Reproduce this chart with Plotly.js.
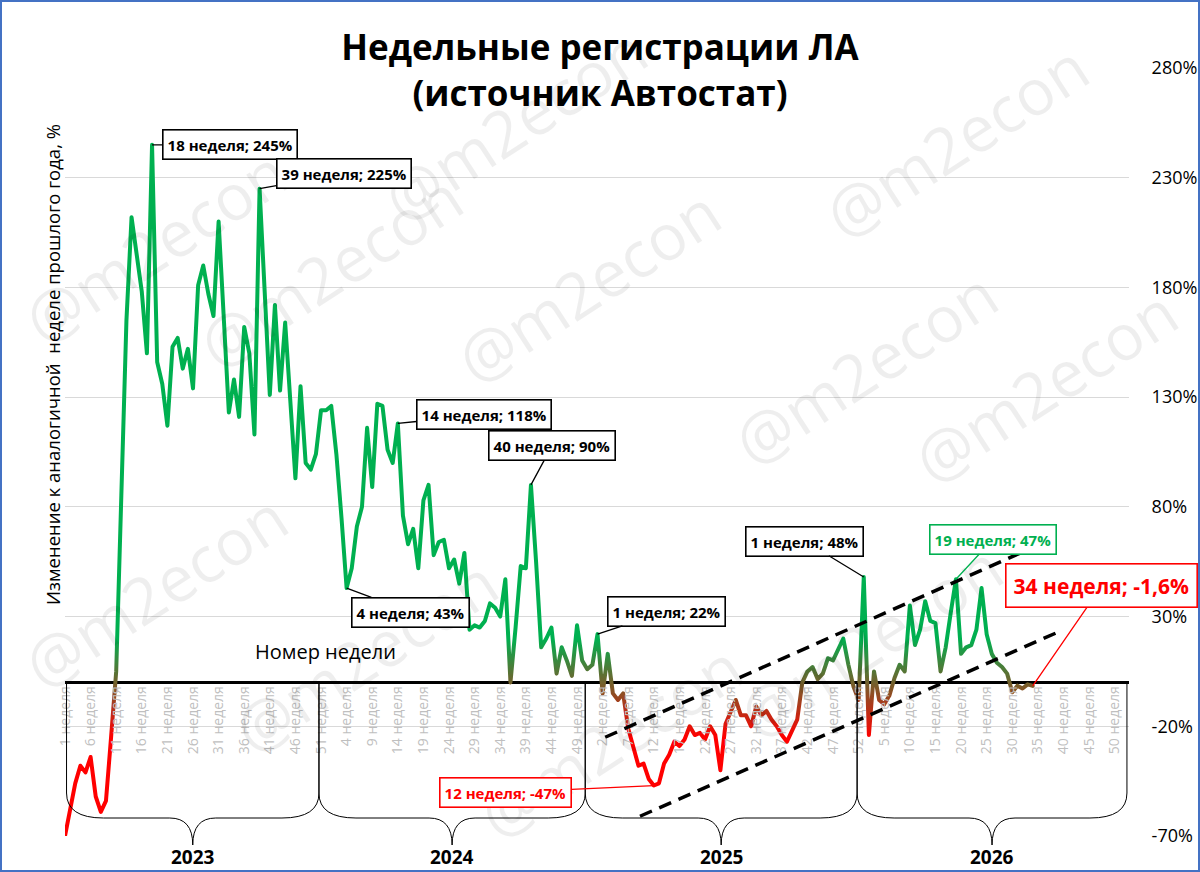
<!DOCTYPE html>
<html>
<head>
<meta charset="utf-8">
<script src="https://cdn.plot.ly/plotly-3.0.1.min.js"></script>
<style>
html,body{margin:0;padding:0;background:#fff;}
#chart{width:1200px;height:872px;}
</style>
</head>
<body>
<div id="chart"></div>
<script>
// ---------------- DATA ----------------
const years = [2023, 2024, 2025, 2026];
const weeksPerYear = 52;
const weekWord = 'неделя';

// change vs same week of previous year, %
const v2023 = [-70, -57, -46, -38, -41, -34, -52, -59, -54, -25,
  5, 85, 165, 212, 195, 178, 150, 245, 146, 136,
  117, 153, 157, 143, 152, 134, 181, 190, 177, 167,
  210, 165, 123, 138, 121, 162, 150, 113, 225, 178,
  131, 172, 133, 164, 130, 93, 135, 100, 97, 104,
  124, 124];
const v2024 = [126, 104, 75, 43, 52, 71, 80, 116, 89, 127,
  126, 106, 100, 118, 76, 63, 70, 52, 83, 90,
  58, 64, 65, 52, 56, 45, 59, 24, 26, 25,
  28, 36, 34, 30, 47, 0, 25, 53, 52, 90,
  55, 16, 20, 25, 4, 16, 10, 3, 26, 10,
  6, 8];
const v2025 = [22, -5, 13, -5, -8, -5, -21, -30, -38, -37,
  -44, -47, -46, -37, -33, -27, -29, -26, -20, -24,
  -23, -26, -20, -24, -40, -19, -14, -8, -15, -15,
  -20, -11, -15, -13, -17, -20, -24, -27, -22, -17,
  0, 5, 7, 1.5, 4, 11, 10, 15, 20, 8,
  -2, -8];
const v2026 = [48, -24, 5, -8, -10, -6, 2, 8, 5, 35,
  17, 24, 37, 28, 27, 5, 16, 32, 47, 13,
  16, 17, 24, 43, 22, 13, 9, 7, 4, -4.5,
  -1.5, -2.8, -0.9, -1.6];
const seriesByYear = [v2023, v2024, v2025, v2026];

const yTickValues = [-70, -20, 30, 80, 130, 180, 230, 280];

// trend channel drawn by the author (week index, %)
const channelUpperX = [105.5, 189.5];
const channelUpperY = [-25, 62];
const channelLowerX = [112.3, 194.7];
const channelLowerY = [-61, 23.7];

// ---------------- LAYOUT CONSTANTS ----------------
const FONT = "'Open Sans', 'Noto Sans', sans-serif";
const W = 1200, H = 872, ML = 65, MR = 71, MT = 68, MB = 36;
const PW = W - ML - MR, PH = H - MT - MB;
const XMAX = 207.8, YMIN = -70, YMAX = 280;
const GREEN = '#00B050', RED = '#FF0000';
const GRAD_HI = 20, GRAD_LO = -25;

const px = x => (x - ML) / PW;          // pixel x -> paper
const py = y => (H - MB - y) / PH;      // pixel y -> paper
const xi = i => i / XMAX;               // week index -> paper
const yv = v => (v - YMIN) / (YMAX - YMIN);

// ---------------- BUILD SERIES ----------------
const xs = [], ys = [];
seriesByYear.forEach((arr, yi) => arr.forEach((v, wi) => {
  xs.push(yi * weeksPerYear + wi);
  ys.push(v);
}));
function idxOf(year, week) { return years.indexOf(year) * weeksPerYear + (week - 1); }
function valOf(year, week) { return seriesByYear[years.indexOf(year)][week - 1]; }

// tick labels every 5 weeks across the continuous axis
const tickvals = [], ticktext = [];
for (let i = 0; i < years.length * weeksPerYear; i += 5) {
  tickvals.push(i);
  ticktext.push(((i % weeksPerYear) + 1) + ' ' + weekWord);
}

const traces = [{
  type: 'scatter', mode: 'lines', x: xs, y: ys,
  line: {color: GREEN, width: 4},
  hoverinfo: 'skip', showlegend: false
}];

// ---------------- SHAPES ----------------
const shapes = [];
shapes.push({type: 'line', xref: 'x', yref: 'y',
  x0: channelUpperX[0], y0: channelUpperY[0], x1: channelUpperX[1], y1: channelUpperY[1],
  line: {color: '#000', width: 3.5, dash: '13px,8px'}});
shapes.push({type: 'line', xref: 'x', yref: 'y',
  x0: channelLowerX[0], y0: channelLowerY[0], x1: channelLowerX[1], y1: channelLowerY[1],
  line: {color: '#000', width: 3.5, dash: '13px,8px'}});

// year braces under the axis
const yearBounds = [0.3, 49.6, 101.6, 154.7, 207.4];
const Y0 = py(683), YA = py(793), YB = py(818), YC = py(845);
const R1 = 37 / PW, R2 = 23 / PW;
for (let k = 0; k < years.length; k++) {
  const a = xi(yearBounds[k]), b = xi(yearBounds[k + 1]), c = (a + b) / 2;
  const d = `M ${a},${Y0} L ${a},${YA} Q ${a},${YB} ${a + R1},${YB} L ${c - R2},${YB} ` +
            `Q ${c},${YB} ${c},${YC} Q ${c},${YB} ${c + R2},${YB} L ${b - R1},${YB} ` +
            `Q ${b},${YB} ${b},${YA} L ${b},${Y0}`;
  shapes.push({type: 'path', xref: 'paper', yref: 'paper', path: d,
    line: {color: '#000', width: 1}});
}
// chart border
shapes.push({type: 'rect', xref: 'paper', yref: 'paper',
  x0: px(1), x1: px(1199), y0: py(871), y1: py(1),
  line: {color: '#4472C4', width: 2}, fillcolor: 'rgba(0,0,0,0)'});

// ---------------- ANNOTATIONS ----------------
const annotations = [];

// watermarks
const marks = [[515, 124], [155, 245], [330, 270], [588, 285], [956, 140], [865, 367],
  [1045, 385], [155, 590], [365, 655], [610, 740], [870, 640]];
marks.forEach(m => annotations.push({
  xref: 'paper', yref: 'paper', x: px(m[0]), y: py(m[1]), xanchor: 'center', yanchor: 'middle',
  text: '@m2econ', showarrow: false, textangle: -33,
  font: {family: FONT, size: 64, color: 'rgba(0,0,0,0.065)'}
}));

const fmt = v => String(v).replace('.', ',');
const callouts = [
  {year: 2023, week: 18, ax: 78, ay: 0, color: '#000', size: 15},
  {year: 2023, week: 39, ax: 84, ay: -15, color: '#000', size: 15},
  {year: 2024, week: 14, ax: 86, ay: -9, color: '#000', size: 15},
  {year: 2024, week: 4, ax: 64, ay: 24, color: '#000', size: 15},
  {year: 2024, week: 40, ax: 21, ay: -39, color: '#000', size: 15},
  {year: 2025, week: 1, ax: 69, ay: -23, color: '#000', size: 15},
  {year: 2025, week: 12, ax: -148, ay: 7, color: RED, size: 15},
  {year: 2026, week: 1, ax: -59, ay: -36, color: '#000', size: 15},
  {year: 2026, week: 19, ax: 37, ay: -40, color: GREEN, size: 15},
  {year: 2026, week: 34, ax: 69, ay: -100, color: RED, size: 21, pad: 7}
];
callouts.forEach(c => {
  const v = valOf(c.year, c.week);
  annotations.push({
    xref: 'x', yref: 'y', x: idxOf(c.year, c.week), y: v,
    text: '<b>' + c.week + ' ' + weekWord + '; ' + fmt(v) + '%</b>',
    showarrow: true, arrowhead: 0, arrowwidth: 1.3, arrowcolor: c.color,
    ax: c.ax, ay: c.ay, standoff: 0, startstandoff: 0,
    bgcolor: '#ffffff', bordercolor: c.color, borderwidth: 1.6, borderpad: c.pad || 4,
    font: {family: FONT, size: c.size, color: c.color}
  });
});

// year labels
for (let k = 0; k < years.length; k++) {
  annotations.push({xref: 'paper', yref: 'paper',
    x: (xi(yearBounds[k]) + xi(yearBounds[k + 1])) / 2, y: py(857),
    xanchor: 'center', yanchor: 'middle', showarrow: false,
    text: '<b>' + years[k] + '</b>', font: {family: FONT, size: 19, color: '#000'}});
}
// axis captions
annotations.push({xref: 'paper', yref: 'paper', x: px(325), y: py(651),
  xanchor: 'center', yanchor: 'middle', showarrow: false,
  text: 'Номер недели', font: {family: FONT, size: 20, color: '#000'}});
annotations.push({xref: 'paper', yref: 'paper', x: px(52), y: py(365),
  xanchor: 'center', yanchor: 'middle', showarrow: false, textangle: -90,
  text: 'Изменение к аналогичной\u00a0 неделе прошлого года, %',
  font: {family: FONT, size: 18.5, color: '#000'}});

const layout = {
  width: W, height: H,
  margin: {l: ML, r: MR, t: MT, b: MB, pad: 0},
  paper_bgcolor: '#ffffff', plot_bgcolor: '#ffffff',
  showlegend: false, hovermode: false,
  font: {family: FONT, color: '#000'},
  title: {
    text: '<b>Недельные регистрации ЛА<br>(источник Автостат)</b>',
    font: {family: FONT, size: 35, color: '#000'},
    x: 0.5, xref: 'container', xanchor: 'center',
    y: 1 - 60 / H, yref: 'container', yanchor: 'middle'
  },
  xaxis: {
    range: [0, XMAX], anchor: 'free', position: yv(0),
    tickmode: 'array', tickvals: tickvals, ticktext: ticktext, tickangle: -90,
    tickfont: {family: FONT, size: 14, color: '#bfbfbf'},
    showgrid: false, zeroline: false, showline: false, ticks: ''
  },
  yaxis: {
    range: [YMIN, YMAX], side: 'right',
    tickmode: 'array', tickvals: yTickValues, ticktext: yTickValues.map(v => v + '%'),
    tickfont: {family: FONT, size: 18, color: '#000'},
    showgrid: true, gridcolor: '#d9d9d9', gridwidth: 1,
    zeroline: true, zerolinecolor: '#000', zerolinewidth: 3.5,
    ticks: 'outside', ticklen: 18, tickcolor: 'rgba(0,0,0,0)', showline: false
  },
  shapes: shapes,
  annotations: annotations
};

Plotly.newPlot('chart', traces, layout, {staticPlot: true, displayModeBar: false}).then(gd => {
  // value-based colour gradient of the line (green above, red below zero)
  const ns = 'http://www.w3.org/2000/svg';
  const svg = gd.querySelector('svg.main-svg');
  let defs = svg.querySelector('defs');
  if (!defs) { defs = document.createElementNS(ns, 'defs'); svg.insertBefore(defs, svg.firstChild); }
  const grad = document.createElementNS(ns, 'linearGradient');
  grad.setAttribute('id', 'valgrad');
  grad.setAttribute('gradientUnits', 'userSpaceOnUse');
  const yPix = v => (YMAX - v) / (YMAX - YMIN) * PH;
  grad.setAttribute('x1', '0'); grad.setAttribute('x2', '0');
  grad.setAttribute('y1', String(yPix(GRAD_HI)));
  grad.setAttribute('y2', String(yPix(GRAD_LO)));
  [[0, GREEN], [1, RED]].forEach(s => {
    const st = document.createElementNS(ns, 'stop');
    st.setAttribute('offset', String(s[0]));
    st.setAttribute('stop-color', s[1]);
    grad.appendChild(st);
  });
  defs.appendChild(grad);
  gd.querySelectorAll('.scatterlayer .js-line').forEach(p => {
    p.style.stroke = 'url(#valgrad)';
    p.style.strokeLinejoin = 'round';
    p.style.strokeLinecap = 'round';
  });
});
</script>
</body>
</html>
